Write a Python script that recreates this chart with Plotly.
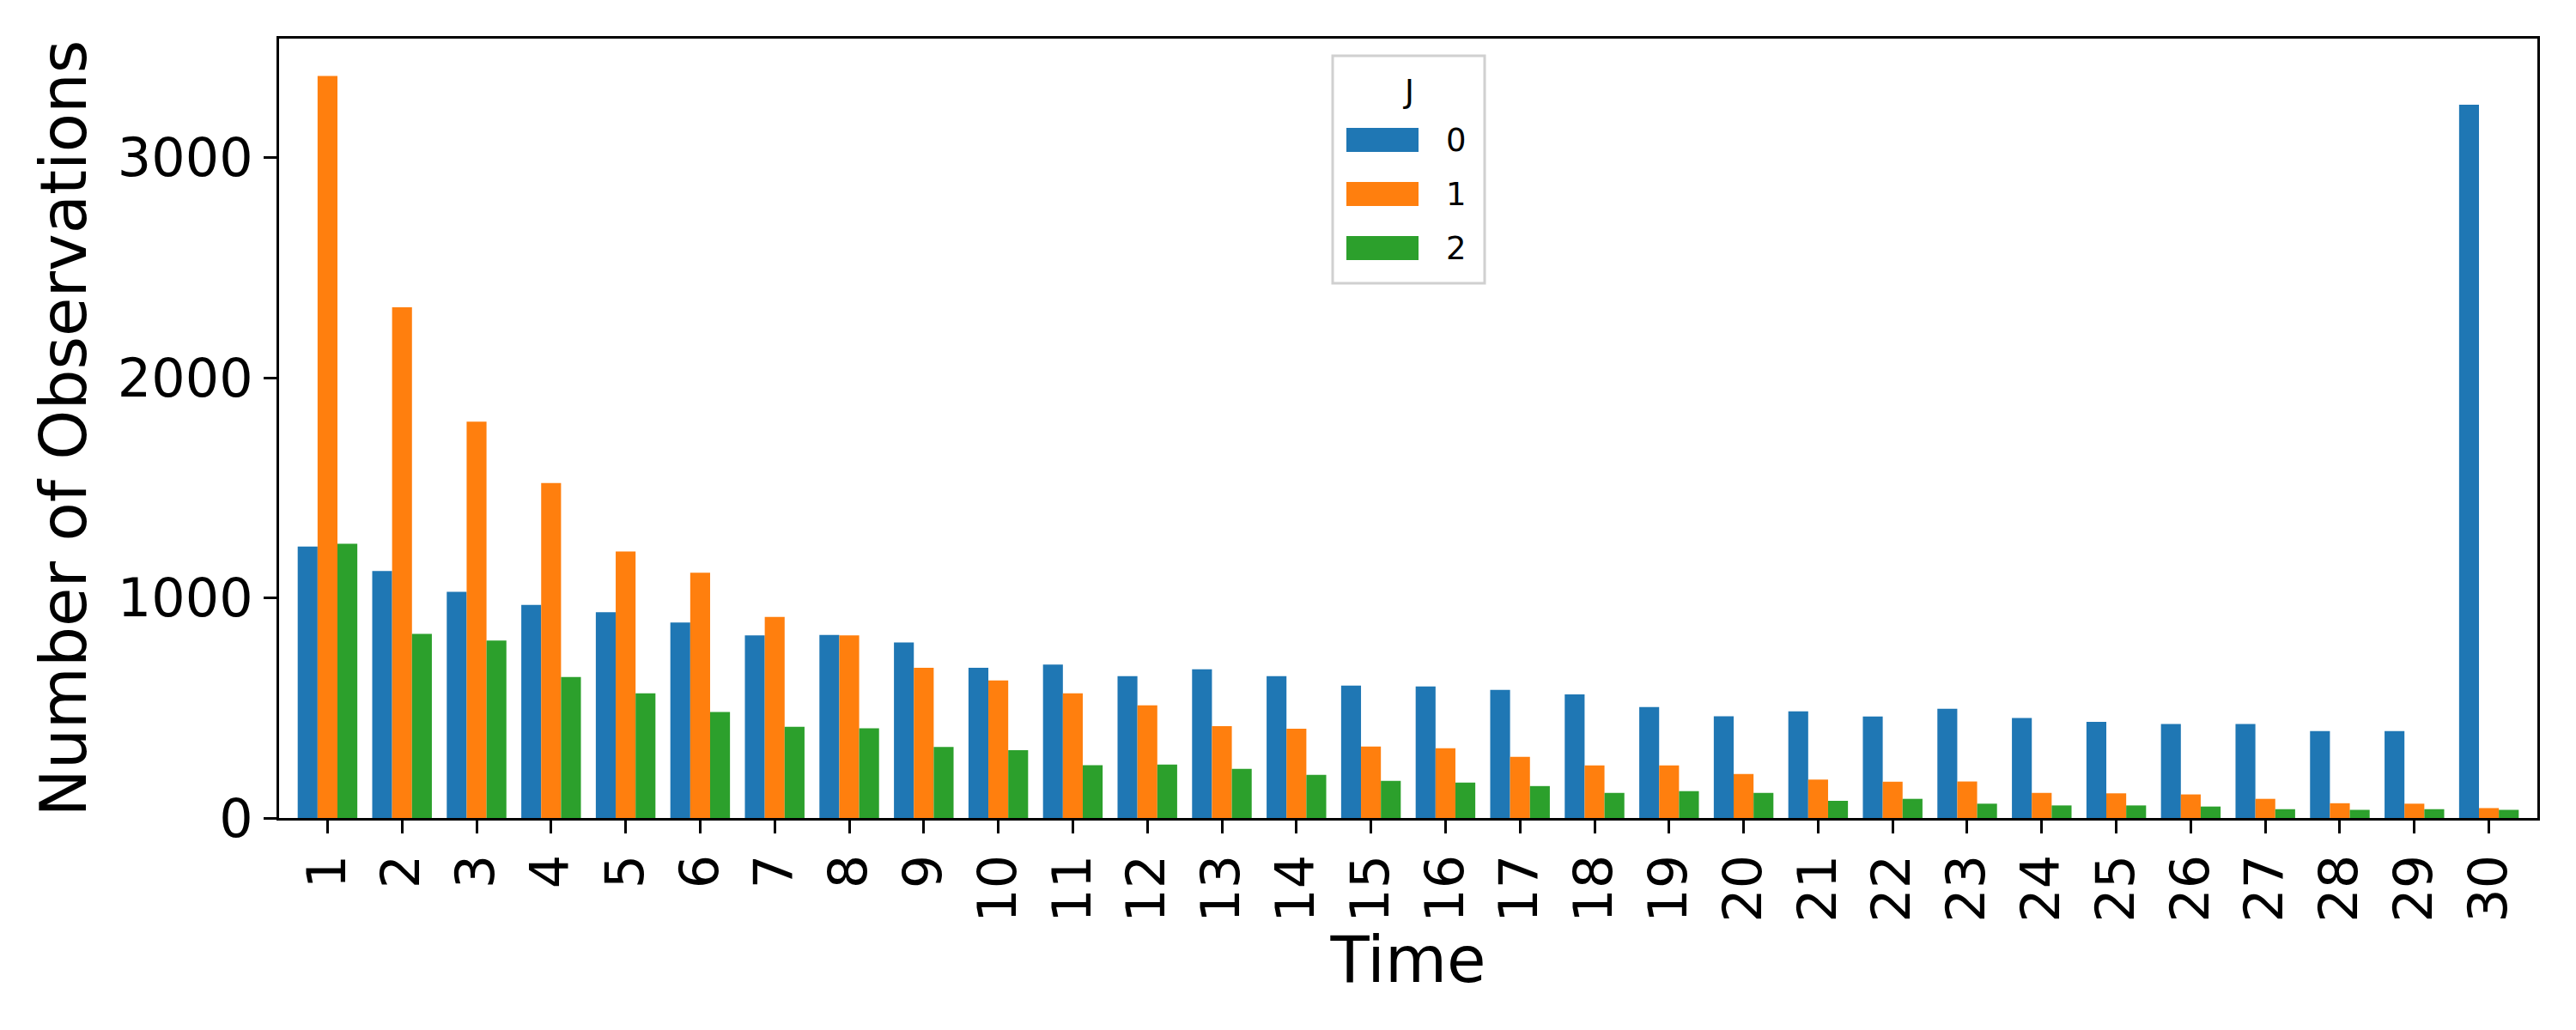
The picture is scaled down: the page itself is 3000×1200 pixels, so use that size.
import plotly.graph_objects as go

# observations per time step, split by J
times = [str(t) for t in range(1, 31)]
j_labels = ["0", "1", "2"]
counts_j0 = [1233, 1122, 1027, 968, 935, 888, 829, 831, 797, 682,
             697, 644, 675, 644, 601, 597, 582, 561, 504, 462,
             484, 461, 496, 454, 437, 427, 427, 395, 395, 3240]
counts_j1 = [3370, 2320, 1800, 1521, 1211, 1114, 913, 829, 682, 625,
             566, 512, 417, 405, 325, 317, 278, 239, 239, 200,
             174, 165, 166, 114, 112, 107, 87, 67, 65, 45]
counts_j2 = [1246, 836, 806, 640, 566, 481, 414, 407, 323, 308,
             240, 243, 223, 196, 169, 161, 145, 114, 122, 114,
             78, 87, 65, 57, 57, 52, 40, 37, 40, 37]
y_ticks = [0, 1000, 2000, 3000]

colors = ["#1f77b4", "#ff7f0e", "#2ca02c"]
font = "DejaVu Sans"

W, H = 3000, 1200
L, R, T, B = 325, 45, 45, 247
pw, ph = W - L - R, H - T - B


def px(x, y):
    # pixel position -> paper coords
    return (x - L) / pw, (H - B - y) / ph


fig = go.Figure()
for name, vals, c in zip(j_labels, [counts_j0, counts_j1, counts_j2], colors):
    fig.add_trace(go.Bar(x=times, y=vals, name=name, marker_color=c,
                         marker_line_width=0, showlegend=False))

# legend drawn by hand so the swatches are as large as in the original
x0, y0 = px(1552, 65)
x1, y1 = px(1729, 330)
fig.add_shape(type="rect", xref="paper", yref="paper", x0=x0, x1=x1, y0=y1, y1=y0,
              line=dict(color="#d0d0d0", width=3), fillcolor="rgba(255,255,255,0.8)")
tx, ty = px(1640, 106)
fig.add_annotation(xref="paper", yref="paper", x=tx, y=ty, text="J", showarrow=False,
                   xanchor="center", yanchor="middle",
                   font=dict(size=37, color="black", family=font))
for i, (name, c) in enumerate(zip(j_labels, colors)):
    yc = 163 + i * 63
    sx0, sy0 = px(1568, yc - 14)
    sx1, sy1 = px(1652, yc + 14)
    fig.add_shape(type="rect", xref="paper", yref="paper", x0=sx0, x1=sx1, y0=sy1, y1=sy0,
                  line=dict(width=0), fillcolor=c)
    lx, ly = px(1682, yc)
    fig.add_annotation(xref="paper", yref="paper", x=lx, y=ly, text=name, showarrow=False,
                       xanchor="left", yanchor="middle",
                       font=dict(size=37, color="black", family=font))

axis_style = dict(showline=True, linecolor="black", linewidth=3, mirror=True,
                  ticks="outside", ticklen=15, tickwidth=3, tickcolor="black",
                  showgrid=False, zeroline=False,
                  tickfont=dict(size=62, color="black", family=font))

fig.update_layout(
    width=W, height=H,
    margin=dict(l=L, r=R, t=T, b=B),
    barmode="group", bargap=0.2, bargroupgap=0,
    paper_bgcolor="white", plot_bgcolor="white",
    font=dict(family=font, color="black"),
    xaxis=dict(title=dict(text="Time", font=dict(size=74), standoff=8),
               range=[-0.65, 29.65], tickangle=-90, **axis_style),
    yaxis=dict(title=dict(text="Number of Observations", font=dict(size=74), standoff=12),
               range=[0, 3540], tickvals=y_ticks, **axis_style),
)

fig.write_html("out.html", config={"displayModeBar": False},
               post_script="document.body.style.margin='0px';")
